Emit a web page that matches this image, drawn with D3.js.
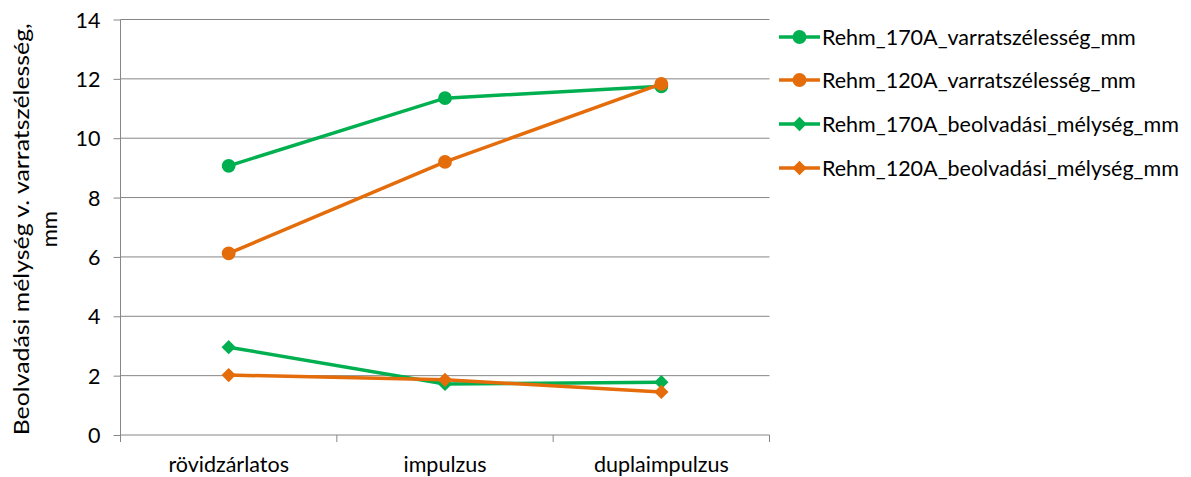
<!DOCTYPE html>
<html><head><meta charset="utf-8">
<script src="https://cdn.jsdelivr.net/npm/d3@7"></script>
<style>body{margin:0;background:#fff;} text{font-family:Lato,"Open Sans",sans-serif;fill:#000;}</style>
</head><body><svg id="c" width="1191" height="477"></svg>
<script>
const categories = ["rövidzárlatos", "impulzus", "duplaimpulzus"];
const seriesNames = ["Rehm_170A_varratszélesség_mm", "Rehm_120A_varratszélesség_mm", "Rehm_170A_beolvadási_mélység_mm", "Rehm_120A_beolvadási_mélység_mm"];
const rehm170Width = [9.07, 11.35, 11.75];
const rehm120Width = [6.12, 9.2, 11.83];
const rehm170Depth = [2.96, 1.72, 1.78];
const rehm120Depth = [2.02, 1.86, 1.45];
const yTicks = [0, 2, 4, 6, 8, 10, 12, 14];
const yTitle = ["Beolvadási mélység v. varratszélesség,", "mm"];

const series = [
  {name: seriesNames[0], values: rehm170Width, color: "#00B050", marker: "circle"},
  {name: seriesNames[1], values: rehm120Width, color: "#E46C0A", marker: "circle"},
  {name: seriesNames[2], values: rehm170Depth, color: "#00B050", marker: "diamond"},
  {name: seriesNames[3], values: rehm120Depth, color: "#E46C0A", marker: "diamond"}
];

const FS = "21.5px";
const svg = d3.select("#c");
const L = 120.5, R = 769.5, T = 19.5, B = 435;
const x = d3.scaleBand().domain(categories).range([L, R]);
const y = d3.scaleLinear().domain([0, 14]).range([B, T]);
const grid = "#868686";

// gridlines
svg.append("g").selectAll("line").data(yTicks.filter(d => d > 0)).join("line")
  .attr("x1", L).attr("x2", R).attr("y1", d => y(d)).attr("y2", d => y(d))
  .attr("stroke", grid).attr("stroke-width", 1);

// y axis
const ya = svg.append("g").attr("transform", `translate(${L},0)`)
  .call(d3.axisLeft(y).tickValues(yTicks).tickSize(7).tickPadding(13).tickFormat(d3.format("d")));
ya.select(".domain").attr("stroke", grid).attr("d", `M0,${T}V${B}`);
ya.selectAll(".tick line").attr("stroke", grid);
ya.selectAll(".tick text").style("font-size", FS).attr("dy", "0.35em");

// x axis
const xa = svg.append("g").attr("transform", `translate(0,${B})`)
  .call(d3.axisBottom(x).tickSize(0).tickPadding(22));
xa.select(".domain").attr("stroke", grid).attr("d", `M${L},0H${R}`);
xa.selectAll(".tick text").style("font-size", FS);
const xt = [L, ...categories.map(c => x(c) + x.bandwidth())];
xa.append("g").selectAll("line").data(xt).join("line")
  .attr("x1", d => d).attr("x2", d => d).attr("y1", 0).attr("y2", 7).attr("stroke", grid);

// y title
const yt = svg.append("text").attr("transform", `translate(21,${(T + B) / 2 + 2}) rotate(-90)`)
  .attr("text-anchor", "middle").style("font-size", "22px");
yt.selectAll("tspan").data(yTitle).join("tspan").attr("x", 0).attr("dy", (d, i) => i ? "1.3em" : "0.35em")
  .attr("textLength", (d, i) => i ? null : 412).attr("lengthAdjust", "spacingAndGlyphs").text(d => d);

const line = d3.line().x((d, i) => x(categories[i]) + x.bandwidth() / 2).y(d => y(d));
const sym = m => m === "circle" ? d3.symbol(d3.symbolCircle, 150) : d3.symbol(d3.symbolDiamond2, 130);

series.forEach(s => {
  const g = svg.append("g");
  g.append("path").attr("d", line(s.values)).attr("fill", "none").attr("stroke", s.color).attr("stroke-width", 3.5);
  g.selectAll("path.m").data(s.values).join("path").attr("class", "m")
    .attr("transform", (d, i) => `translate(${x(categories[i]) + x.bandwidth() / 2},${y(d)})`)
    .attr("d", sym(s.marker)()).attr("fill", s.color);
});

// legend
const lg = svg.append("g");
const legY = [37, 80, 124, 168];
series.forEach((s, i) => {
  const g = lg.append("g").attr("transform", `translate(779,${legY[i]})`);
  g.append("line").attr("x1", 0).attr("x2", 41).attr("stroke", s.color).attr("stroke-width", 3.5);
  g.append("path").attr("transform", "translate(20.5,0)").attr("d", sym(s.marker)()).attr("fill", s.color);
  g.append("text").attr("x", 43).attr("dy", "0.35em").style("font-size", FS).text(s.name);
});
</script></body></html>
